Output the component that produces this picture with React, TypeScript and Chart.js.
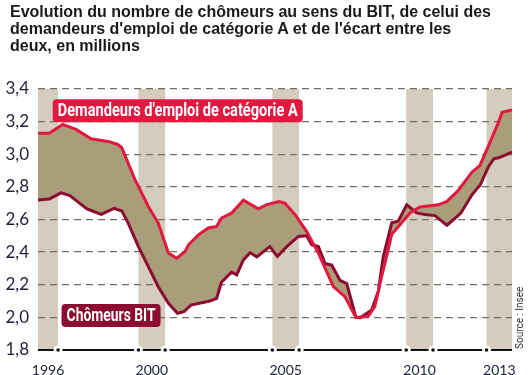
import React, { useEffect, useRef } from "react";
import { Chart, registerables } from "chart.js";
Chart.register(...registerables);

const titleLines = [
  "Evolution du nombre de chômeurs au sens du BIT, de celui des",
  "demandeurs d'emploi de catégorie A et de l'écart entre les",
  "deux, en millions",
];
const yearBands = [1996, 2000, 2005, 2010, 2013];
const xMin = 1996.25;
const xMax = 2013.95;
const yMin = 1.8;
const yMax = 3.4;
const yStep = 0.2;

const catALabel = "Demandeurs d'emploi de catégorie A";
const bitLabel = "Chômeurs BIT";
const sourceText = "Source : Insee";

const catADates = [
  1996.25, 1996.67, 1997.17, 1997.67, 1998.23, 1998.91, 1999.23, 1999.38, 1999.87,
  2000.37, 2000.74, 2001.12, 2001.43, 2001.74, 2001.87, 2002.24, 2002.61, 2002.92,
  2003.1, 2003.48, 2003.92, 2004.48, 2004.79, 2005.25, 2005.47, 2005.85, 2006.28,
  2006.72, 2007.28, 2007.71, 2008.12, 2008.58, 2008.83, 2009.08, 2009.27, 2009.46,
  2009.83, 2010.14, 2010.51, 2011.2, 2011.52, 2011.93, 2012.45, 2012.75, 2013.12,
  2013.44, 2013.58, 2013.95,
];
const catAValues = [
  3.128, 3.128, 3.183, 3.152, 3.095, 3.077, 3.06, 3.04, 2.845,
  2.68, 2.578, 2.394, 2.363, 2.403, 2.445, 2.506, 2.548, 2.558,
  2.609, 2.64, 2.718, 2.665, 2.691, 2.71, 2.7, 2.63, 2.527,
  2.394, 2.188, 2.127, 2.0, 2.006, 2.068, 2.25, 2.375, 2.51,
  2.58, 2.64, 2.677, 2.69, 2.711, 2.775, 2.89, 2.93, 3.07,
  3.194, 3.258, 3.272,
];

const bitDates = [
  1996.25, 1996.67, 1997.11, 1997.44, 1997.8, 1998.08, 1998.61, 1999.09, 1999.38,
  1999.62, 2000.0, 2000.37, 2000.74, 2001.12, 2001.46, 2001.7, 2001.96, 2002.67,
  2002.92, 2003.1, 2003.48, 2003.67, 2003.92, 2004.17, 2004.42, 2004.91, 2005.19,
  2005.54, 2005.97, 2006.28, 2006.47, 2006.72, 2006.97, 2007.22, 2007.53, 2007.78,
  2008.12, 2008.28, 2008.71, 2008.96, 2009.14, 2009.46, 2009.7, 2010.02, 2010.39,
  2010.7, 2011.07, 2011.52, 2011.77, 2012.04, 2012.46, 2012.77, 2013.08, 2013.27,
  2013.45, 2013.95,
];
const bitValues = [
  2.72, 2.726, 2.763, 2.746, 2.7, 2.665, 2.632, 2.668, 2.652,
  2.578, 2.434, 2.311, 2.188, 2.086, 2.025, 2.035, 2.075, 2.1,
  2.117, 2.215, 2.277, 2.26, 2.352, 2.397, 2.37, 2.434, 2.373,
  2.434, 2.496, 2.5, 2.445, 2.434, 2.33, 2.32, 2.227, 2.207,
  2.0, 1.998, 2.045, 2.16, 2.37, 2.58, 2.59, 2.69, 2.64,
  2.63, 2.624, 2.565, 2.6, 2.64, 2.753, 2.814, 2.927, 2.972,
  2.978, 3.013,
];

const COL_RED = "#E1193E";
const COL_DARK = "#8C0B30";
const COL_FILL = "#A99D7A";
const COL_BAND = "#D4CDBD";
const COL_GRID = "#756d5e";
const COL_TEXT = "#1c2233";

function roundRect(ctx: CanvasRenderingContext2D, x: number, y: number, w: number, h: number, r: number) {
  ctx.beginPath();
  ctx.moveTo(x + r, y);
  ctx.lineTo(x + w - r, y);
  ctx.quadraticCurveTo(x + w, y, x + w, y + r);
  ctx.lineTo(x + w, y + h - r);
  ctx.quadraticCurveTo(x + w, y + h, x + w - r, y + h);
  ctx.lineTo(x + r, y + h);
  ctx.quadraticCurveTo(x, y + h, x, y + h - r);
  ctx.lineTo(x, y + r);
  ctx.quadraticCurveTo(x, y, x + r, y);
  ctx.closePath();
}

function tag(ctx: CanvasRenderingContext2D, text: string, left: number, cy: number, h: number, boxW: number, fill: string) {
  ctx.save();
  ctx.font = "bold 18px Roboto";
  const w = ctx.measureText(text).width;
  const sx = Math.min(1, (boxW - 10) / w);
  ctx.fillStyle = fill;
  roundRect(ctx, left, cy - h / 2, boxW, h, 4);
  ctx.fill();
  ctx.translate(left + boxW / 2, cy + 1);
  ctx.scale(sx, 1);
  ctx.fillStyle = "#ffffff";
  ctx.textAlign = "center";
  ctx.textBaseline = "middle";
  ctx.fillText(text, 0, 0);
  ctx.restore();
}

const decor = {
  id: "decor",
  beforeDraw(chart: any) {
    const { ctx, chartArea: a, scales } = chart;
    const x = scales.x;
    ctx.save();
    ctx.fillStyle = COL_BAND;
    yearBands.forEach((yr) => {
      const l = x.getPixelForValue(Math.max(yr, xMin));
      const r = x.getPixelForValue(Math.min(yr + 1, xMax));
      ctx.fillRect(l, a.top, r - l, a.bottom - a.top);
    });
    ctx.restore();
  },
  afterDraw(chart: any) {
    const { ctx, chartArea: a, scales } = chart;
    const x = scales.x;
    const y = scales.y;
    ctx.save();
    ctx.strokeStyle = "#111";
    ctx.lineWidth = 2;
    ctx.beginPath();
    ctx.moveTo(a.left, a.bottom);
    ctx.lineTo(a.right, a.bottom);
    ctx.stroke();
    const edges: number[] = [];
    yearBands.forEach((yr) => {
      [yr, yr + 1].forEach((e) => {
        if (e > xMin + 0.05 && e < xMax - 0.05) edges.push(e);
      });
    });
    edges.forEach((e) => {
      const px = x.getPixelForValue(e);
      ctx.fillStyle = "#ffffff";
      ctx.beginPath();
      ctx.arc(px, a.bottom, 4.5, 0, Math.PI * 2);
      ctx.fill();
      ctx.fillStyle = "#111";
      ctx.beginPath();
      ctx.arc(px, a.bottom, 1.8, 0, Math.PI * 2);
      ctx.fill();
    });
    ctx.restore();
    tag(ctx, catALabel, x.getPixelForValue(1996.8), y.getPixelForValue(3.266), 23, 250, COL_RED);
    tag(ctx, bitLabel, x.getPixelForValue(1997.13), y.getPixelForValue(2.012), 23, 99, COL_DARK);
    ctx.save();
    ctx.translate(520, a.bottom - 1);
    ctx.rotate(-Math.PI / 2);
    ctx.font = "10px Roboto";
    ctx.fillStyle = "#333";
    ctx.textAlign = "left";
    ctx.textBaseline = "middle";
    ctx.fillText(sourceText, 0, 0);
    ctx.restore();
  },
};

function bandCenters(): number[] {
  return yearBands.map((yr) => (Math.max(yr, xMin) + Math.min(yr + 1, xMax)) / 2);
}

export default function App() {
  const ref = useRef<HTMLCanvasElement>(null);
  useEffect(() => {
    if (!ref.current) return;
    const chart = new Chart(ref.current, {
      type: "line",
      data: {
        datasets: [
          {
            label: catALabel,
            data: catADates.map((d, i) => ({ x: d, y: catAValues[i] })),
            borderColor: COL_RED,
            borderWidth: 3,
            backgroundColor: COL_FILL,
            fill: "+1",
            pointRadius: 0,
            tension: 0,
          },
          {
            label: bitLabel,
            data: bitDates.map((d, i) => ({ x: d, y: bitValues[i] })),
            borderColor: COL_DARK,
            borderWidth: 3,
            fill: false,
            pointRadius: 0,
            tension: 0,
          },
        ],
      },
      options: {
        responsive: false,
        animation: false,
        layout: { padding: { top: 89, right: 16, bottom: 0, left: 0 } },
        plugins: {
          legend: { display: false },
          tooltip: { enabled: false },
          filler: { drawTime: "beforeDatasetsDraw" },
        } as any,
        scales: {
          x: {
            type: "linear",
            min: xMin,
            max: xMax,
            grid: { display: false },
            border: { display: false },
            afterBuildTicks: (scale: any) => {
              scale.ticks = bandCenters().map((v) => ({ value: v }));
            },
            afterFit: (scale: any) => {
              scale.height = 25;
            },
            ticks: {
              autoSkip: false,
              maxRotation: 0,
              padding: 4,
              color: COL_TEXT,
              font: { family: "Lato", size: 14 },
              callback: (v: any) => String(Math.floor(Number(v))),
            },
          },
          y: {
            min: yMin,
            max: yMax,
            afterFit: (scale: any) => {
              scale.width = 38;
            },
            grid: {
              drawTicks: false,
              lineWidth: 1.3,
              color: (c: any) => (c.tick && c.tick.value <= yMin + 1e-6 ? "rgba(0,0,0,0)" : COL_GRID),
            },
            border: { display: false, dash: [7, 5] },
            ticks: {
              stepSize: yStep,
              padding: 9,
              color: COL_TEXT,
              font: { family: "Lato", size: 17 },
              callback: (v: any) => Number(v).toFixed(1).replace(".", ","),
            },
          },
        } as any,
      },
      plugins: [decor],
    });
    return () => chart.destroy();
  }, []);

  return (
    <div style={{ position: "fixed", left: 0, top: 0, width: 528, height: 375, background: "#fff" }}>
      <div
        style={{
          position: "absolute",
          left: 10,
          top: 3,
          font: "bold 16px 'Liberation Sans', Arial, sans-serif",
          lineHeight: "17px",
          color: "#1a1a1a",
          whiteSpace: "nowrap",
        }}
      >
        {titleLines.map((t, i) => (
          <div key={i}>{t}</div>
        ))}
      </div>
      <canvas ref={ref} width={528} height={375} style={{ display: "block" }} />
    </div>
  );
}
